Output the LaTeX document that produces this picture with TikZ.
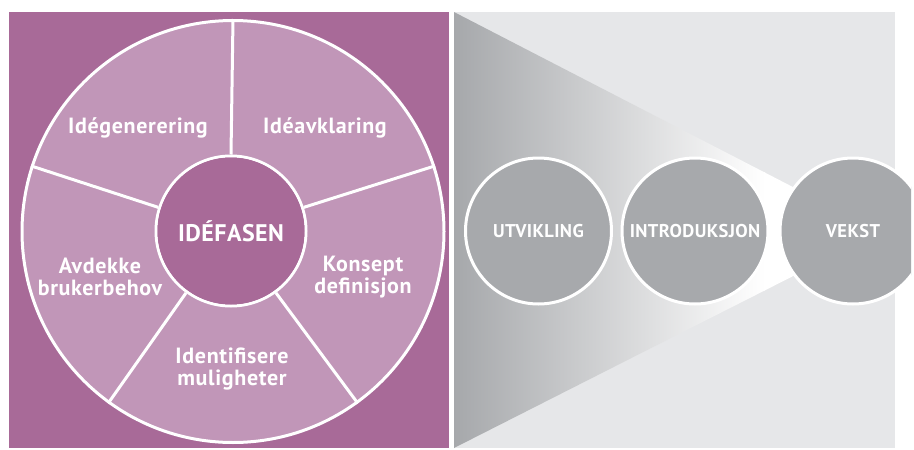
\documentclass[tikz,border=0pt]{standalone}
\usepackage{fontspec}
\setmainfont{PT Sans}
\begin{document}
\begin{tikzpicture}[x=1pt,y=-1pt,
  segtext/.style={text=white, font=\fontsize{22}{22}\selectfont\bfseries\addfontfeatures{LetterSpace=3}, align=center, inner sep=0pt},
  phase/.style={circle, fill=phasegray, draw=white, line width=3pt, minimum size=146pt, inner sep=0pt,
    text=white, font=\fontsize{18.5}{20}\selectfont\bfseries\addfontfeatures{LetterSpace=2}},
  spoke/.style={draw=white, line width=3pt}
]
\definecolor{darkpurple}{RGB}{168,106,152}
\definecolor{lightpurple}{RGB}{193,150,184}
\definecolor{panelgray}{RGB}{230,231,233}
\definecolor{funnelgray}{RGB}{166,168,171}
\definecolor{phasegray}{RGB}{167,169,172}
\useasboundingbox (0,0) rectangle (914,450);
\fill[white] (0,0) rectangle (914,450);
% left panel
\fill[darkpurple] (9,12) rectangle (449,448);
\node[circle, fill=lightpurple, draw=white, line width=3pt, minimum size=422pt, inner sep=0pt] (wheel) at (233,231.5) {};
\node[circle, fill=darkpurple, draw=white, line width=3pt, minimum size=150pt, inner sep=0pt] (core) at (231,231) {};
\foreach \a in {90,162,234,306,18} {
  \draw[spoke] (core.\a) -- (wheel.\a);
}
\node[circle, fill=darkpurple, minimum size=147pt, inner sep=0pt, text=white,
  font=\fontsize{24}{26}\selectfont\bfseries\addfontfeatures{LetterSpace=2}] (coretext) at (231,231) {IDÉFASEN};
\node[segtext] (s1) at (138,128) {Idégenerering};
\node[segtext] (s2) at (325,128) {Idéavklaring};
\node[segtext] (s3) at (100,277) {Avdekke\\brukerbehov};
\node[segtext] (s4) at (363,277) {Konsept\\definisjon};
\node[segtext] (s5) at (232,369) {Identifisere\\muligheter};
% right panel
\fill[panelgray] (454,12) rectangle (895,448);
\begin{scope}
  \clip (454,12) -- (880,232) -- (454,448) -- cycle;
  \shade[left color=funnelgray, right color=white] (454,12) rectangle (765,448);
  \fill[white] (764,12) rectangle (890,448);
\end{scope}
\begin{scope}
  \clip (440,0) rectangle (911,450);
  \node[phase] (p1) at (538.5,231) {UTVIKLING};
  \node[phase] (p2) at (695,231) {INTRODUKSJON};
  \node[phase] (p3) at (853,231) {VEKST};
\end{scope}
\end{tikzpicture}
\end{document}
